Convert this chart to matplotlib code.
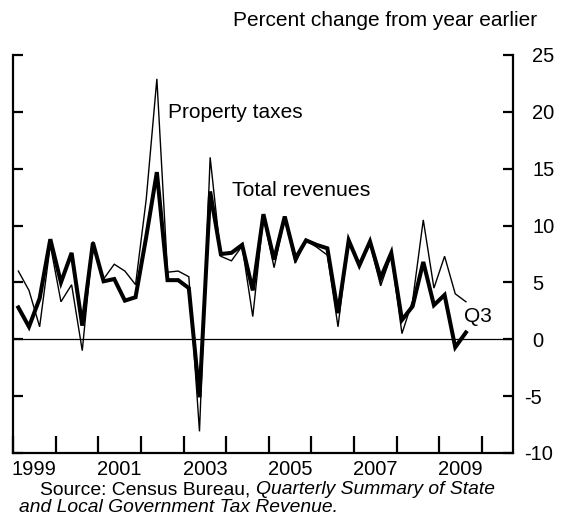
import matplotlib
matplotlib.use("Agg")
import matplotlib.pyplot as plt
import matplotlib.transforms as mtransforms
import numpy as np

# quarterly data, 1999Q1 - 2009Q3, percent change from year earlier
start_year = 1999
total_revenues = [2.8, 1.1, 3.6, 8.8, 5.0, 7.6, 1.2, 8.5, 5.1, 5.3, 3.4, 3.7,
                  9.0, 14.7, 5.2, 5.2, 4.5, -5.1, 13.0, 7.5, 7.6, 8.3, 4.3, 11.0,
                  7.0, 10.8, 7.1, 8.7, 8.3, 8.0, 2.3, 8.7, 6.5, 8.6, 5.4, 7.6,
                  1.7, 2.9, 6.8, 3.0, 3.9, -0.7, 0.6]
property_taxes = [6.0, 4.3, 1.1, 8.3, 3.3, 4.8, -1.0, 8.6, 5.3, 6.6, 6.0, 4.8,
                  12.3, 22.9, 5.9, 6.0, 5.5, -8.1, 16.0, 7.3, 6.9, 8.2, 2.0, 10.8,
                  6.3, 10.7, 6.7, 8.7, 8.1, 7.4, 1.1, 8.9, 6.4, 8.4, 4.7, 7.4,
                  0.5, 3.4, 10.5, 4.5, 7.3, 4.0, 3.3]
year_labels = ["1999", "2001", "2003", "2005", "2007", "2009"]
y_ticks = [-10, -5, 0, 5, 10, 15, 20, 25]

plt.rcParams['font.family'] = ['Liberation Sans', 'DejaVu Sans']
plt.rcParams['font.size'] = 14

W, H = 566, 517
fig = plt.figure(figsize=(W / 100, H / 100), dpi=100)
ax = fig.add_axes([13 / W, 64 / H, 500 / W, 398 / H])

x = start_year + (np.arange(len(total_revenues)) + 0.5) / 4

ax.axhline(0, color='black', lw=0.9)
ax.plot(x, property_taxes, color='black', lw=1.0, solid_joinstyle='miter')
ax.plot(x, total_revenues, color='black', lw=2.9, solid_joinstyle='miter')

ax.set_xlim(1999, 2010.73)
ax.set_ylim(-10, 25)

ax.spines['top'].set_visible(False)
for s in ['left', 'right', 'bottom']:
    ax.spines[s].set_linewidth(1.6)

# x axis: year boundaries as ticks, labels centred on years
ax.set_xticks(np.arange(1999, 2011))
ax.set_xticklabels([])
ax.set_xticks([int(y) + 0.5 for y in year_labels], minor=True)
ax.set_xticklabels(year_labels, minor=True)
ax.tick_params(axis='x', which='major', direction='in', length=12, width=1.6)
ax.tick_params(axis='x', which='minor', length=0, pad=5, labelsize=14.5)

# y axis: inward ticks on both sides, labels on the right
ax.set_yticks(y_ticks)
ax.set_yticklabels([str(v) for v in y_ticks])
ax.tick_params(axis='y', direction='in', length=7, width=1.6, left=True, right=True,
               labelleft=False, labelright=True, pad=14, labelsize=14.5)
for lab in ax.yaxis.get_ticklabels(which='major'):
    lab.set_horizontalalignment('left')

fig.canvas.draw()
shift = mtransforms.ScaledTranslation(-8 / 100, 0, fig.dpi_scale_trans)
for tick in ax.yaxis.get_major_ticks():
    if tick.label2.get_text().startswith('-'):
        tick.label2.set_transform(tick.label2.get_transform() + shift)

ax.text(2002.64, 19.9, "Property taxes", ha='left', va='center', fontsize=15)
ax.text(2004.14, 13.1, "Total revenues", ha='left', va='center', fontsize=15.3)
ax.text(2009.59, 2.0, "Q3", ha='left', va='center', fontsize=15)

fig.text(537 / W, 1 - 20 / H, "Percent change from year earlier", ha='right', va='center',
         fontsize=15)

fig.text(40 / W, 1 - 490 / H, "Source: Census Bureau, ", ha='left', va='center', fontsize=13.9)
fig.text(19 / W, 1 - 508 / H, "and Local Government Tax Revenue.", ha='left', va='center',
         fontsize=13.9, style='italic')
src = fig.texts[1]
fig.canvas.draw()
bb = src.get_window_extent()
fig.text(bb.x1 / W, 1 - 490 / H, "Quarterly Summary of State", ha='left', va='center',
         fontsize=13.9, style='italic')

fig.savefig("out.png", dpi=100)
